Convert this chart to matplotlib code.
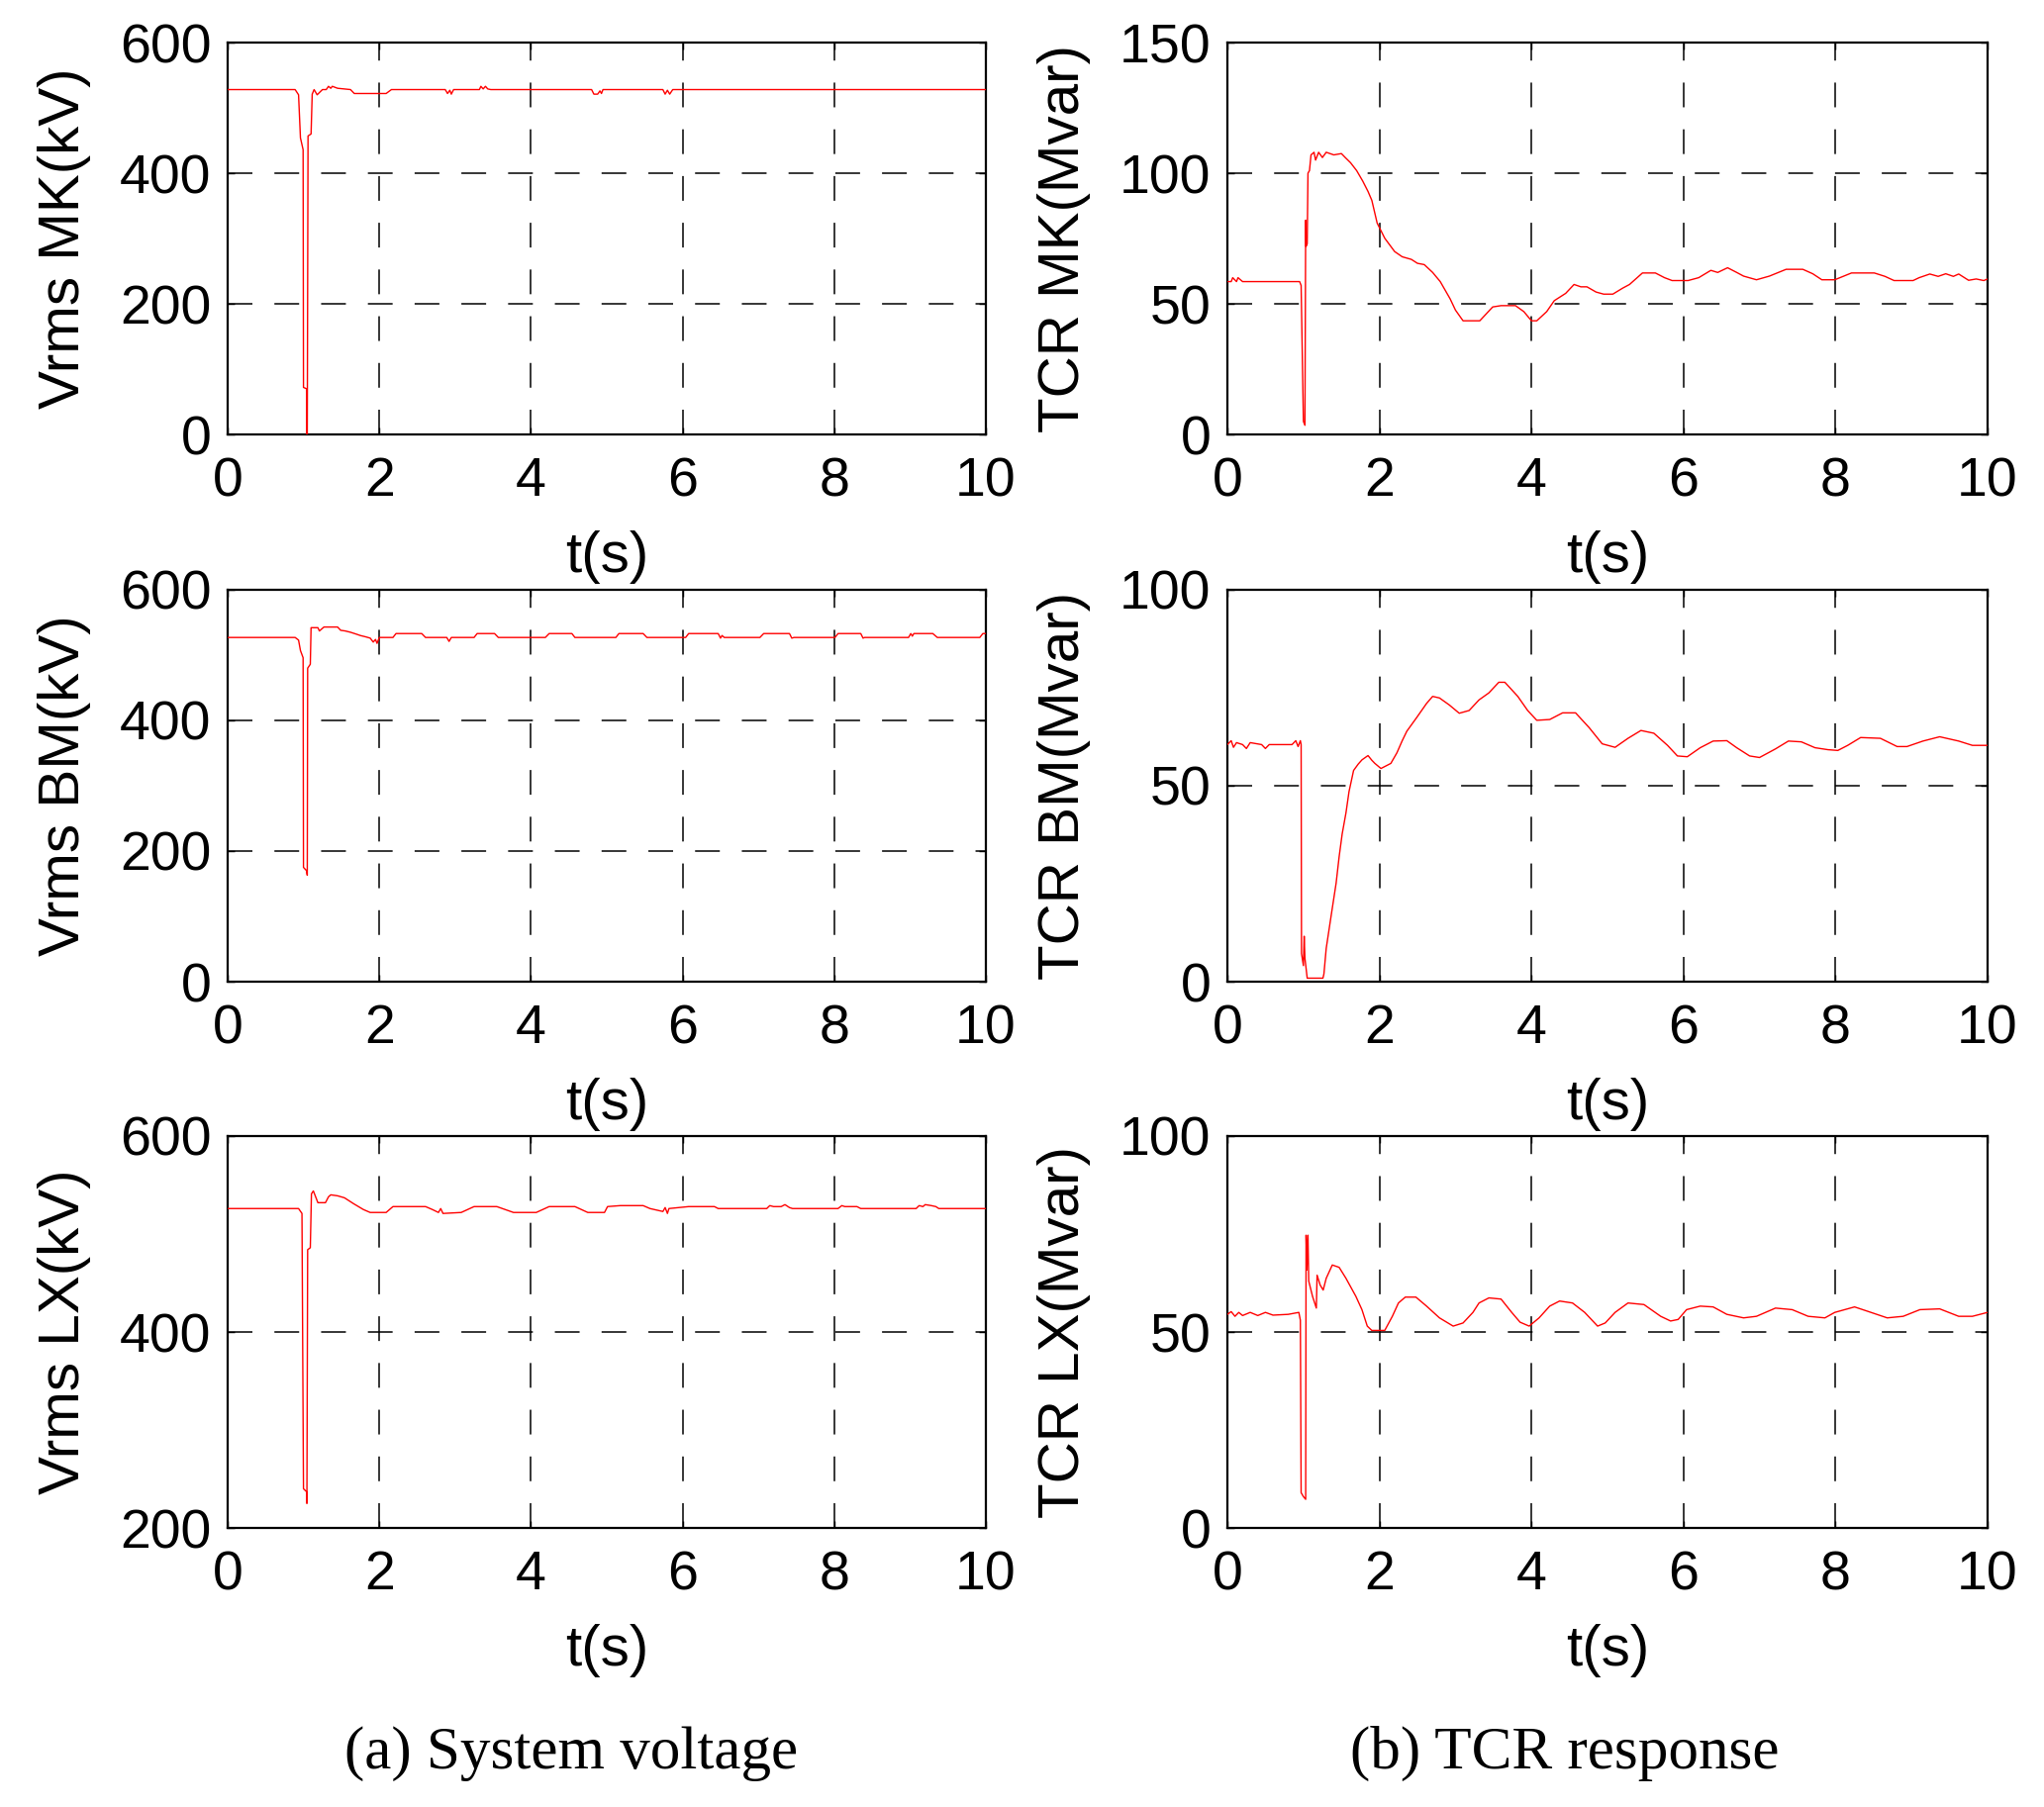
import matplotlib
matplotlib.use('Agg')
import matplotlib.pyplot as plt

plt.rcParams['font.family'] = ['Liberation Sans', 'DejaVu Sans']
plt.rcParams['lines.scale_dashes'] = False

# 系统电压 (kV): (t, 值)
vrms_mk = [(0, 528), (0.89, 528), (0.935, 520), (0.96, 454), (0.995, 436), (1.0, 72), (1.04, 70), (1.045, 0),
           (1.05, 0), (1.06, 457), (1.1, 460), (1.115, 521), (1.14, 528), (1.18, 520), (1.25, 528), (1.3, 528),
           (1.33, 533), (1.36, 530), (1.38, 533), (1.45, 530), (1.62, 528), (1.67, 522), (2.09, 522), (2.16, 528),
           (2.87, 528), (2.9, 522), (2.93, 527), (2.95, 521), (2.98, 528), (3.32, 528), (3.34, 533), (3.37, 529),
           (3.40, 533), (3.43, 529), (3.47, 528), (4.80, 528), (4.83, 521), (4.88, 521), (4.91, 526), (4.93, 522),
           (4.95, 528), (5.74, 528), (5.77, 521), (5.80, 527), (5.83, 521), (5.87, 528), (10, 528)]
vrms_bm = [(0, 527), (0.89, 527), (0.935, 523), (0.96, 507), (0.995, 496), (1.0, 175), (1.04, 170), (1.05, 163),
           (1.055, 480), (1.09, 486), (1.10, 542), (1.19, 542), (1.21, 537), (1.27, 543), (1.45, 543), (1.49, 538),
           (1.55, 537), (1.62, 535), (1.70, 532), (1.75, 530), (1.82, 528), (1.88, 526), (1.92, 520), (1.95, 524),
           (1.97, 518), (2.0, 527), (2.18, 527), (2.22, 533), (2.56, 533), (2.61, 527), (2.89, 527), (2.92, 521),
           (2.95, 527), (3.25, 527), (3.29, 533), (3.52, 533), (3.57, 527), (4.19, 527), (4.24, 533), (4.54, 533),
           (4.58, 527), (5.12, 527), (5.16, 533), (5.48, 533), (5.53, 527), (6.04, 527), (6.08, 533), (6.47, 533),
           (6.50, 526), (6.52, 530), (6.55, 527), (7.02, 527), (7.07, 533), (7.41, 533), (7.44, 526), (7.47, 527),
           (8.01, 527), (8.05, 533), (8.35, 533), (8.38, 526), (8.40, 527), (8.98, 527), (9.01, 533), (9.03, 529),
           (9.05, 533), (9.30, 533), (9.36, 527), (9.92, 527), (9.96, 533), (10, 533)]
vrms_lx = [(0, 526), (0.935, 526), (0.98, 521), (1.0, 240), (1.04, 237), (1.045, 225), (1.055, 484), (1.09, 486),
           (1.105, 541), (1.13, 544), (1.16, 538), (1.19, 532), (1.29, 532), (1.33, 538), (1.36, 540), (1.45, 539),
           (1.54, 537), (1.66, 531), (1.79, 525), (1.88, 522), (2.09, 522), (2.18, 528), (2.61, 528), (2.7, 525),
           (2.78, 522), (2.81, 526), (2.84, 521), (3.08, 522), (3.25, 528), (3.55, 528), (3.77, 522), (4.07, 522),
           (4.24, 528), (4.58, 528), (4.75, 522), (4.97, 522), (5.01, 528), (5.18, 529), (5.48, 529), (5.57, 526),
           (5.74, 523), (5.77, 527), (5.80, 521), (5.82, 526), (6.08, 528), (6.42, 528), (6.47, 526), (7.11, 526),
           (7.15, 529), (7.2, 528), (7.3, 528), (7.35, 530), (7.41, 527), (7.45, 526), (8.05, 526), (8.10, 529),
           (8.14, 528), (8.30, 528), (8.35, 526), (9.08, 526), (9.12, 529), (9.17, 528), (9.2, 530), (9.28, 529),
           (9.34, 528), (9.38, 526), (10, 526)]

# TCR 无功 (Mvar)
tcr_mk = [(0, 58.5), (0.05, 58.5), (0.07, 60), (0.12, 58.5), (0.14, 60), (0.2, 58.5), (0.95, 58.5), (0.97, 57),
          (1.0, 5), (1.02, 3.5), (1.03, 82), (1.035, 72), (1.05, 73), (1.06, 100), (1.08, 101), (1.10, 107),
          (1.14, 108), (1.16, 105), (1.2, 108), (1.25, 106), (1.3, 108), (1.4, 107), (1.5, 107.5), (1.55, 106),
          (1.62, 104), (1.7, 101), (1.78, 97), (1.85, 93), (1.9, 89.6), (1.97, 80.9), (2.07, 75.1), (2.2, 70),
          (2.3, 68), (2.42, 67), (2.5, 65.5), (2.59, 65), (2.7, 62), (2.8, 58.5), (2.93, 51.9), (3.0, 47.6),
          (3.1, 43.5), (3.32, 43.5), (3.49, 48.8), (3.6, 49.3), (3.79, 49.3), (3.9, 47), (4.0, 43.5), (4.07, 43.5),
          (4.2, 47), (4.3, 51.2), (4.45, 54), (4.56, 57.4), (4.65, 56.5), (4.73, 56.5), (4.85, 54.5), (4.95, 53.7),
          (5.07, 53.7), (5.2, 56), (5.29, 57.4), (5.46, 61.8), (5.63, 61.8), (5.75, 60), (5.85, 58.9), (6.06, 58.9),
          (6.2, 60), (6.36, 62.8), (6.45, 62), (6.58, 63.8), (6.7, 62), (6.79, 60.6), (6.96, 59.2), (7.13, 60.6),
          (7.35, 63.2), (7.57, 63.2), (7.7, 61.5), (7.82, 59.2), (7.99, 59.2), (8.1, 60.5), (8.21, 61.8),
          (8.51, 61.8), (8.65, 60.5), (8.77, 58.9), (9.02, 58.9), (9.1, 60), (9.24, 61.4), (9.35, 60.5),
          (9.45, 61.5), (9.55, 60.5), (9.62, 61.4), (9.75, 59), (9.85, 59.5), (9.95, 58.9), (10, 59.5)]
tcr_bm = [(0, 60.5), (0.05, 61.5), (0.08, 59.8), (0.12, 61), (0.2, 60.5), (0.25, 59.5), (0.3, 61), (0.45, 60.5),
          (0.5, 59.5), (0.55, 60.5), (0.85, 60.5), (0.9, 61.5), (0.93, 60), (0.96, 61.5), (0.97, 60.5),
          (0.975, 7.2), (1.0, 4.1), (1.01, 11.6), (1.02, 6), (1.05, 0.9), (1.257, 0.9), (1.27, 2), (1.30, 8.5),
          (1.37, 17.5), (1.43, 25.1), (1.47, 31.9), (1.51, 37.7), (1.56, 43.1), (1.60, 48.5), (1.66, 53.9),
          (1.72, 55.5), (1.77, 56.6), (1.85, 57.7), (1.90, 56.5), (1.94, 55.7), (2.02, 54.4), (2.08, 55),
          (2.15, 55.7), (2.23, 58.4), (2.30, 61.5), (2.36, 63.9), (2.49, 67.4), (2.62, 71.0), (2.70, 72.8),
          (2.79, 72.4), (2.92, 70.6), (3.05, 68.5), (3.18, 69.2), (3.31, 71.9), (3.44, 73.7), (3.57, 76.4),
          (3.65, 76.4), (3.74, 74.5), (3.82, 72.8), (3.95, 69.2), (4.07, 66.7), (4.24, 66.9), (4.41, 68.6),
          (4.58, 68.6), (4.76, 64.8), (4.93, 60.7), (5.10, 59.8), (5.27, 62.1), (5.44, 64.1), (5.61, 63.4),
          (5.79, 60.3), (5.92, 57.6), (6.05, 57.4), (6.22, 59.7), (6.39, 61.4), (6.57, 61.5), (6.70, 59.7),
          (6.87, 57.6), (7.00, 57.2), (7.21, 59.4), (7.38, 61.4), (7.55, 61.2), (7.73, 59.7), (7.90, 59.2),
          (8.03, 59.0), (8.16, 60.3), (8.33, 62.3), (8.59, 62.1), (8.81, 60.0), (8.94, 60.0), (9.15, 61.4),
          (9.37, 62.5), (9.62, 61.4), (9.80, 60.3), (10.0, 60.3)]
tcr_lx = [(0, 54.5), (0.05, 55.2), (0.1, 54), (0.15, 55), (0.2, 54.2), (0.3, 55), (0.4, 54.2), (0.5, 55),
          (0.6, 54.3), (0.8, 54.5), (0.94, 55), (0.96, 53), (0.97, 9.0), (1.0, 8), (1.03, 7.3), (1.035, 74.7),
          (1.045, 65.8), (1.06, 74.7), (1.07, 63), (1.12, 59.1), (1.17, 56.1), (1.18, 64.5), (1.22, 62),
          (1.26, 60.7), (1.30, 63.7), (1.38, 67.1), (1.47, 66.5), (1.56, 63.7), (1.69, 59.1), (1.77, 55.7),
          (1.84, 51.5), (1.90, 50.4), (2.07, 50.4), (2.17, 54.0), (2.25, 57.4), (2.34, 58.9), (2.48, 58.9),
          (2.62, 56.6), (2.79, 53.6), (2.97, 51.5), (3.10, 52.3), (3.23, 55.0), (3.31, 57.4), (3.44, 58.7),
          (3.60, 58.4), (3.74, 55.0), (3.85, 52.5), (3.97, 51.5), (4.10, 53.6), (4.24, 56.6), (4.37, 57.9),
          (4.54, 57.4), (4.70, 55.0), (4.87, 51.5), (4.97, 52.3), (5.10, 55.0), (5.27, 57.4), (5.48, 57.0),
          (5.70, 54.0), (5.83, 52.8), (5.93, 53.2), (6.04, 55.7), (6.22, 56.6), (6.39, 56.4), (6.57, 54.5),
          (6.79, 53.6), (6.96, 54.0), (7.21, 56.1), (7.43, 55.7), (7.64, 54.0), (7.86, 53.6), (7.99, 55.0),
          (8.25, 56.4), (8.42, 55.3), (8.68, 53.6), (8.89, 54.0), (9.11, 55.7), (9.37, 55.9), (9.62, 54.0),
          (9.80, 54.0), (10.0, 55.0)]

x_ticks = [0, 2, 4, 6, 8, 10]
left_labels = ['Vrms MK(kV)', 'Vrms BM(kV)', 'Vrms LX(kV)']
right_labels = ['TCR MK(Mvar)', 'TCR BM(Mvar)', 'TCR LX(Mvar)']
left_ylims = [(0, 600), (0, 600), (200, 600)]
right_ylims = [(0, 150), (0, 100), (0, 100)]
left_yticks = [[0, 200, 400, 600], [0, 200, 400, 600], [200, 400, 600]]
right_yticks = [[0, 50, 100, 150], [0, 50, 100], [0, 50, 100]]
captions = ['(a) System voltage', '(b) TCR response']

W, H = 2065, 1826
fig = plt.figure(figsize=(W / 100, H / 100), dpi=100)


def draw_panel(rect, series, ylim, yticks, ylabel):
    ax = fig.add_axes(rect)
    t = [p[0] for p in series]
    v = [p[1] for p in series]
    ax.plot(t, v, color='red', linewidth=1.0, zorder=3)
    ax.set_xlim(0, 10)
    ax.set_ylim(*ylim)
    ax.set_xticks(x_ticks)
    ax.set_yticks(yticks)
    ax.grid(True, color='black', linestyle=(0, (18, 16)), linewidth=1.1)
    ax.tick_params(direction='in', length=5, width=1, top=True, right=True, labelsize=40, colors='black')
    ax.tick_params(axis='x', pad=16)
    ax.tick_params(axis='y', pad=12)
    for s in ax.spines.values():
        s.set_linewidth(1.6)
    ax.set_xlabel('t(s)', fontsize=42)
    ax.set_ylabel(ylabel, fontsize=42)
    ax.xaxis.set_label_coords(0.5, -0.245)
    ax.yaxis.set_label_coords(-0.18, 0.5)
    return ax


left_x, left_w = 230 / W, 766 / W
right_x, right_w = 1240 / W, 768 / W
ax_h = 396 / H
bottoms = [1 - 439 / H, 1 - 992 / H, 1 - 1544 / H]

left_series = [vrms_mk, vrms_bm, vrms_lx]
right_series = [tcr_mk, tcr_bm, tcr_lx]
for i in range(3):
    draw_panel([left_x, bottoms[i], left_w, ax_h], left_series[i], left_ylims[i], left_yticks[i], left_labels[i])
    draw_panel([right_x, bottoms[i], right_w, ax_h], right_series[i], right_ylims[i], right_yticks[i],
               right_labels[i])

# 图注
fig.text(577 / W, 1 - 1772 / H, captions[0], ha='center', va='center', fontsize=44,
         family=['Liberation Serif', 'DejaVu Serif'])
fig.text(1581 / W, 1 - 1772 / H, captions[1], ha='center', va='center', fontsize=44,
         family=['Liberation Serif', 'DejaVu Serif'])

fig.savefig('out.png', dpi=100, facecolor='white')
